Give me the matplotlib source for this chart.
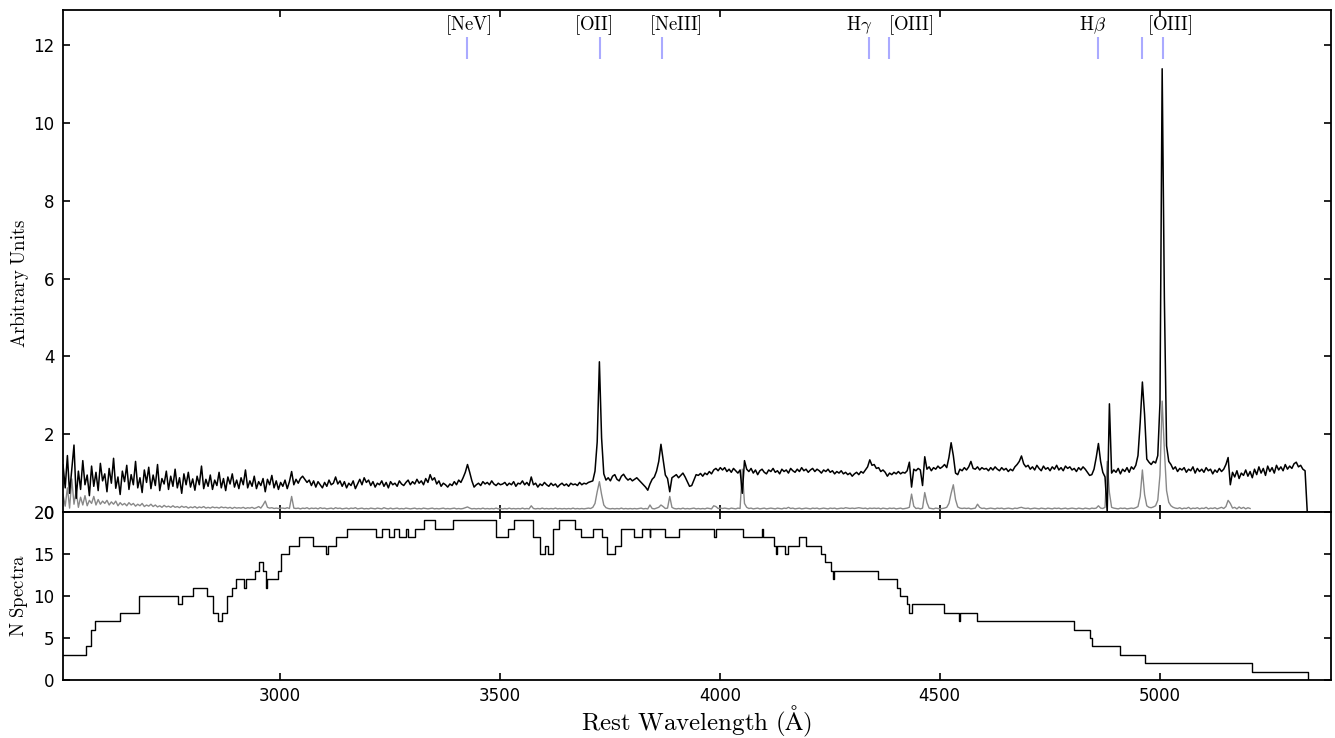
import numpy as np
import matplotlib
matplotlib.use('Agg')
import matplotlib.pyplot as plt

plt.rcParams['mathtext.fontset'] = 'cm'
plt.rcParams['font.family'] = ['DejaVu Sans']

# ---------------- data ----------------
wave_start = 2506.0
wave_step = 5.0

# composite spectrum (black), 5 A bins
flux_2500 = [1.21, 0.62, 1.45, 0.48, 1.10, 1.72, 0.35, 1.05, 0.58, 1.32,
             0.70, 0.95, 0.42, 1.18, 0.66, 1.02, 0.55, 1.25, 0.80, 0.98,
             0.52, 1.12, 0.74, 1.38, 0.61, 0.90, 0.45, 1.05, 0.78, 1.20,
             0.58, 0.96, 0.70, 1.30, 0.62, 0.88, 0.50, 1.08, 0.76, 1.15,
             0.60, 0.95, 0.68, 1.22, 0.55, 0.86, 0.72, 1.05, 0.58, 0.92,
             0.66, 1.10, 0.62, 0.88, 0.48, 0.98, 0.70, 1.02, 0.64, 0.85,
             0.56, 0.92, 0.70, 1.18, 0.60, 0.84, 0.66, 0.95, 0.58, 0.82,
             0.68, 1.02, 0.62, 0.86, 0.55, 0.90, 0.72, 0.98, 0.64, 0.82,
             0.60, 0.88, 0.70, 1.08, 0.62, 0.80, 0.66, 0.92, 0.60, 0.78,
             0.68, 0.86, 0.52, 0.84, 0.70, 0.94, 0.62, 0.80, 0.58, 0.76]
flux_3000 = [0.66, 0.82, 0.60, 0.78, 1.04, 0.70, 0.84, 0.74, 0.86, 0.92,
             0.84, 0.76, 0.82, 0.68, 0.80, 0.64, 0.78, 0.70, 0.62, 0.76,
             0.66, 0.82, 0.70, 0.74, 0.90, 0.72, 0.80, 0.66, 0.78, 0.62,
             0.74, 0.68, 0.80, 0.60, 0.72, 0.84, 0.70, 0.88, 0.76, 0.82,
             0.68, 0.78, 0.64, 0.74, 0.70, 0.80, 0.66, 0.76, 0.62, 0.78,
             0.70, 0.74, 0.66, 0.80, 0.72, 0.68, 0.76, 0.82, 0.70, 0.78,
             0.72, 0.84, 0.74, 0.80, 0.70, 0.86, 0.76, 0.96, 0.82, 0.88,
             0.72, 0.80, 0.66, 0.74, 0.70, 0.64, 0.72, 0.68, 0.78, 0.70,
             0.82, 0.76, 0.88, 1.02, 1.22, 1.02, 0.80, 0.64, 0.70, 0.74,
             0.68, 0.78, 0.72, 0.76, 0.70, 0.80, 0.72, 0.68, 0.74, 0.70]
flux_3500 = [0.72, 0.76, 0.68, 0.74, 0.70, 0.78, 0.66, 0.74, 0.72, 0.80,
             0.70, 0.76, 0.68, 0.90, 0.70, 0.74, 0.64, 0.72, 0.68, 0.76,
             0.70, 0.66, 0.74, 0.68, 0.72, 0.64, 0.70, 0.74, 0.68, 0.72,
             0.66, 0.74, 0.70, 0.72, 0.68, 0.76, 0.70, 0.74, 0.72, 0.76,
             0.78, 0.80, 1.05, 1.80, 3.86, 1.90, 0.98, 0.82,
             0.88, 0.80, 0.92, 0.96, 0.84, 0.80, 0.92, 0.97, 0.88, 0.82,
             0.86, 0.80, 0.84, 0.88, 0.82, 0.76, 0.70, 0.64, 0.56, 0.72,
             0.84, 0.90, 1.05, 1.30, 1.74, 1.35, 0.95, 0.86, 0.52, 0.88,
             0.92, 0.96, 0.88, 0.94, 1.00, 0.90, 0.78, 0.66, 0.68, 0.82,
             0.96, 0.94, 0.99, 0.92, 1.00, 0.96, 1.04, 0.98, 1.08, 1.12,
             1.06, 1.14]
flux_4000 = [1.08, 1.14, 1.04, 1.10, 1.02, 1.12, 1.06, 1.00, 1.08, 0.48,
             1.32, 1.10, 1.04, 1.12, 1.00, 1.08, 0.96, 1.06, 1.10, 1.02,
             0.98, 1.08, 1.04, 1.12, 1.02, 1.06, 0.98, 1.10, 1.04, 1.08,
             1.00, 1.12, 1.06, 1.02, 1.10, 1.04, 1.14, 1.06, 1.10, 1.02,
             1.08, 1.12, 1.04, 1.10, 1.06, 1.00, 1.08, 1.04, 1.10, 1.02,
             1.06, 0.98, 1.04, 1.00, 1.06, 0.98, 1.02, 0.96, 1.00, 0.92,
             0.98, 1.02, 0.96, 1.04, 1.00, 1.08, 1.16, 1.34, 1.20, 1.22,
             1.12, 1.14, 1.04, 1.08, 1.02, 0.92, 1.00, 0.96, 1.02, 0.98,
             1.04, 0.98, 1.02, 1.00, 1.06, 1.28, 0.64, 1.10, 1.06, 1.12,
             1.08, 0.68, 1.42, 1.10, 1.16, 1.06, 1.14, 1.10, 1.18, 1.12]
flux_4500 = [1.16, 1.22, 1.14, 1.40, 1.78, 1.45, 1.00, 0.96, 1.10, 1.06,
             1.14, 1.08, 1.16, 1.30, 1.12, 1.10, 1.16, 1.08, 1.14, 1.10,
             1.12, 1.06, 1.14, 1.08, 1.16, 1.10, 1.06, 1.14, 1.08, 1.12,
             1.04, 1.10, 1.06, 1.16, 1.22, 1.30, 1.44, 1.24, 1.16, 1.20,
             1.10, 1.16, 1.08, 1.20, 1.12, 1.06, 1.18, 1.10, 1.14, 1.06,
             1.16, 1.10, 1.20, 1.08, 1.14, 1.06, 1.18, 1.12, 1.16, 1.08,
             1.12, 1.04, 1.14, 1.08, 1.16, 1.10, 1.02, 0.94, 0.96, 1.10,
             1.40, 1.76, 1.30, 1.02, 0.90, 0.00, 2.78, 1.00, 1.08, 1.02,
             1.12, 0.98, 1.10, 1.04, 1.14, 1.02, 1.16, 1.10, 1.20, 1.45,
             2.30, 3.34, 2.50, 1.36, 1.28, 1.22, 1.30, 1.26, 1.45, 2.80]
flux_5000 = [11.39, 5.50, 1.70, 1.30, 1.22, 1.10, 1.16, 1.04, 1.12, 1.08,
             1.14, 1.02, 1.10, 1.06, 1.16, 1.00, 1.12, 1.04, 1.10, 1.02,
             1.14, 1.06, 1.10, 0.98, 1.08, 1.02, 1.12, 1.04, 1.10, 1.22,
             1.40, 0.70, 1.02, 0.90, 1.06, 0.86, 1.00, 0.94, 1.08, 0.92,
             1.04, 0.88, 1.10, 0.96, 1.16, 1.00, 1.12, 0.94, 1.18, 1.04,
             1.14, 1.00, 1.20, 1.08, 1.16, 1.06, 1.22, 1.10, 1.18, 1.12,
             1.24, 1.28, 1.16, 1.20, 1.10, 1.06, 0.00]

# noise / dispersion spectrum (grey), same 5 A bins, ends near 5206 A
noise_2500 = [0.45, 0.15, 0.62, 0.10, 0.85, 0.20, 0.55, 0.12, 0.38, 0.18,
              0.42, 0.16, 0.30, 0.22, 0.40, 0.18, 0.32, 0.20, 0.28, 0.22,
              0.30, 0.18, 0.26, 0.20, 0.28, 0.16, 0.24, 0.18, 0.22, 0.16,
              0.24, 0.18, 0.22, 0.15, 0.20, 0.16, 0.22, 0.14, 0.18, 0.15,
              0.20, 0.14, 0.18, 0.13, 0.16, 0.12, 0.17, 0.13, 0.15, 0.12,
              0.16, 0.12, 0.14, 0.11, 0.15, 0.12, 0.14, 0.10, 0.13, 0.11,
              0.14, 0.10, 0.13, 0.11, 0.14, 0.10, 0.12, 0.10, 0.13, 0.11,
              0.12, 0.10, 0.13, 0.11, 0.12, 0.10, 0.12, 0.09, 0.12, 0.10,
              0.11, 0.10, 0.12, 0.09, 0.11, 0.10, 0.12, 0.09, 0.11, 0.14,
              0.10, 0.18, 0.28, 0.12, 0.10, 0.11, 0.09, 0.10, 0.09, 0.10]
noise_3000 = [0.10, 0.09, 0.11, 0.09, 0.40, 0.10, 0.09, 0.10, 0.08, 0.10,
              0.09, 0.11, 0.08, 0.10, 0.09, 0.10, 0.08, 0.11, 0.09, 0.10,
              0.08, 0.09, 0.10, 0.08, 0.11, 0.09, 0.10, 0.08, 0.09, 0.10,
              0.08, 0.10, 0.09, 0.11, 0.08, 0.09, 0.10, 0.08, 0.09, 0.08,
              0.10, 0.09, 0.08, 0.10, 0.09, 0.08, 0.11, 0.09, 0.08, 0.10,
              0.08, 0.09, 0.10, 0.08, 0.09, 0.08, 0.10, 0.09, 0.08, 0.09,
              0.10, 0.08, 0.09, 0.08, 0.10, 0.09, 0.08, 0.09, 0.10, 0.08,
              0.09, 0.08, 0.09, 0.10, 0.08, 0.09, 0.08, 0.09, 0.10, 0.08,
              0.09, 0.08, 0.09, 0.11, 0.13, 0.10, 0.08, 0.09, 0.08, 0.09,
              0.08, 0.10, 0.08, 0.09, 0.08, 0.09, 0.08, 0.10, 0.08, 0.09]
noise_3500 = [0.08, 0.09, 0.08, 0.10, 0.08, 0.09, 0.08, 0.09, 0.08, 0.10,
              0.08, 0.09, 0.08, 0.16, 0.09, 0.08, 0.09, 0.08, 0.10, 0.08,
              0.09, 0.08, 0.09, 0.08, 0.10, 0.08, 0.09, 0.08, 0.09, 0.08,
              0.09, 0.08, 0.10, 0.08, 0.09, 0.08, 0.09, 0.08, 0.09, 0.10,
              0.09, 0.12, 0.22, 0.52, 0.78, 0.45, 0.18, 0.11, 0.09, 0.08,
              0.09, 0.08, 0.09, 0.08, 0.10, 0.08, 0.09, 0.08, 0.09, 0.08,
              0.09, 0.08, 0.09, 0.10, 0.08, 0.09, 0.08, 0.18, 0.09, 0.08,
              0.10, 0.12, 0.18, 0.14, 0.09, 0.10, 0.40, 0.12, 0.09, 0.08,
              0.09, 0.08, 0.10, 0.08, 0.09, 0.08, 0.09, 0.10, 0.08, 0.09,
              0.08, 0.09, 0.08, 0.10, 0.09, 0.08, 0.16, 0.14, 0.09, 0.10]
noise_4000 = [0.09, 0.10, 0.09, 0.08, 0.10, 0.09, 0.08, 0.10, 0.09, 1.10,
              0.22, 0.12, 0.09, 0.10, 0.08, 0.09, 0.10, 0.08, 0.09, 0.10,
              0.08, 0.09, 0.10, 0.09, 0.08, 0.10, 0.09, 0.08, 0.10, 0.09,
              0.12, 0.09, 0.10, 0.08, 0.09, 0.10, 0.08, 0.09, 0.10, 0.09,
              0.08, 0.10, 0.09, 0.10, 0.08, 0.09, 0.10, 0.09, 0.08, 0.10,
              0.09, 0.10, 0.08, 0.09, 0.10, 0.09, 0.11, 0.10, 0.09, 0.10,
              0.09, 0.10, 0.11, 0.10, 0.09, 0.10, 0.08, 0.10, 0.09, 0.10,
              0.09, 0.10, 0.08, 0.10, 0.09, 0.08, 0.10, 0.09, 0.10, 0.08,
              0.09, 0.10, 0.08, 0.09, 0.10, 0.12, 0.46, 0.15, 0.09, 0.10,
              0.08, 0.10, 0.50, 0.24, 0.10, 0.09, 0.08, 0.10, 0.09, 0.08]
noise_4500 = [0.09, 0.10, 0.12, 0.22, 0.48, 0.70, 0.32, 0.13, 0.10, 0.09,
              0.10, 0.09, 0.10, 0.08, 0.09, 0.10, 0.20, 0.12, 0.09, 0.10,
              0.08, 0.09, 0.10, 0.09, 0.08, 0.10, 0.09, 0.10, 0.08, 0.09,
              0.10, 0.09, 0.08, 0.10, 0.09, 0.11, 0.12, 0.10, 0.09, 0.10,
              0.08, 0.09, 0.10, 0.09, 0.08, 0.10, 0.09, 0.08, 0.10, 0.09,
              0.08, 0.10, 0.09, 0.10, 0.08, 0.09, 0.10, 0.08, 0.09, 0.10,
              0.09, 0.08, 0.10, 0.09, 0.08, 0.10, 0.09, 0.08, 0.10, 0.09,
              0.10, 0.16, 0.10, 0.09, 0.12, 1.30, 0.50, 0.12, 0.10, 0.09,
              0.08, 0.10, 0.09, 0.10, 0.08, 0.09, 0.10, 0.09, 0.11, 0.14,
              0.40, 1.08, 0.45, 0.16, 0.12, 0.11, 0.13, 0.16, 0.30, 0.95]
noise_5000 = [2.85, 1.60, 0.55, 0.25, 0.16, 0.12, 0.10, 0.09, 0.11, 0.08,
              0.10, 0.09, 0.12, 0.08, 0.10, 0.09, 0.11, 0.08, 0.10, 0.09,
              0.12, 0.08, 0.10, 0.09, 0.11, 0.08, 0.10, 0.12, 0.09, 0.14,
              0.30, 0.22, 0.10, 0.12, 0.08, 0.13, 0.09, 0.12, 0.08, 0.11,
              0.09]

# number of stacked spectra per wavelength (step function)
nspec_edges = [2506, 2558, 2569, 2579, 2636, 2679, 2768, 2776, 2801, 2833,
               2848, 2859, 2867, 2880, 2890, 2899, 2918, 2922, 2943, 2951,
               2961, 2967, 2971, 2996, 3002, 3021, 3042, 3074, 3104, 3108,
               3127, 3152, 3219, 3231, 3248, 3258, 3271, 3286, 3290, 3307,
               3326, 3353, 3392, 3491, 3517, 3532, 3574, 3591, 3602, 3608,
               3620, 3633, 3671, 3684, 3711, 3733, 3743, 3762, 3775, 3804,
               3823, 3840, 3842, 3875, 3906, 3986, 3991, 4052, 4095, 4097,
               4122, 4128, 4130, 4149, 4156, 4179, 4195, 4230, 4239, 4253,
               4257, 4259, 4359, 4402, 4410, 4425, 4430, 4437, 4509, 4543,
               4546, 4585, 4805, 4841, 4847, 4911, 4966, 5210, 5337, 5340]
nspec_counts = [3, 4, 6, 7, 8, 10, 9, 10, 11, 10,
                8, 7, 8, 10, 11, 12, 11, 12, 13, 14,
                13, 11, 12, 13, 15, 16, 17, 16, 15, 16,
                17, 18, 17, 18, 17, 18, 17, 18, 17, 18,
                19, 18, 19, 17, 18, 19, 17, 15, 16, 15,
                18, 19, 18, 17, 18, 17, 15, 16, 18, 17,
                18, 17, 18, 17, 18, 17, 18, 17, 18, 17,
                16, 15, 16, 15, 16, 17, 16, 15, 14, 13,
                12, 13, 12, 11, 10, 9, 8, 9, 8, 7,
                8, 7, 6, 5, 4, 3, 2, 1, 0, 0]

# emission line markers
line_waves = [3426, 3727, 3869, 4340, 4385, 4861, 4959, 5007]
label_texts = [r'$\mathrm{[NeV]}$', r'$\mathrm{[OII]}$', r'$\mathrm{[NeIII]}$',
               r'$\mathrm{H}\gamma$', r'$\mathrm{[OIII]}$', r'$\mathrm{H}\beta$',
               r'$\mathrm{[OIII]}$']
label_waves = [3428, 3712, 3899, 4317, 4433, 4848, 5023]

# ---------------- build ----------------
flux = np.array(flux_2500 + flux_3000 + flux_3500 + flux_4000 + flux_4500 + flux_5000)
wave = wave_start + wave_step * np.arange(len(flux))
noise = np.array(noise_2500 + noise_3000 + noise_3500 + noise_4000 + noise_4500 + noise_5000)
wave_noise = wave_start + wave_step * np.arange(len(noise))

W, H = 1335, 738
fig = plt.figure(figsize=(W / 100, H / 100), dpi=100)
left = 63 / W
width = (1331 - 63) / W
ax1 = fig.add_axes([left, 1 - 512 / H, width, (512 - 10) / H])
ax2 = fig.add_axes([left, 1 - 680 / H, width, (680 - 512) / H], sharex=ax1)

ax1.plot(wave_noise, noise, color='#888888', lw=1.0)
ax1.plot(wave, flux, color='black', lw=1.1)
ax1.vlines(line_waves, 11.65, 12.2, colors='#aaaaff', lw=1.5)
for t, x in zip(label_texts, label_waves):
    ax1.text(x, 12.5, t, ha='center', va='center', fontsize=13.5)

ax2.step(nspec_edges, nspec_counts, where='post', color='black', lw=1.0)

ax1.set_xlim(2506, 5390)
ax1.set_ylim(0, 12.9)
ax2.set_ylim(0, 20)
ax1.set_yticks([0, 2, 4, 6, 8, 10, 12])
ax2.set_yticks([0, 5, 10, 15, 20])
ax2.set_xticks([3000, 3500, 4000, 4500, 5000])

for ax in (ax1, ax2):
    ax.tick_params(direction='in', top=True, right=True, length=5, width=1.2,
                   labelsize=12, pad=6)
    for s in ax.spines.values():
        s.set_linewidth(1.3)
ax1.tick_params(labelbottom=False)
ax2.tick_params(axis='x', pad=5)

ax1.set_ylabel(r'$\mathrm{Arbitrary\ Units}$', fontsize=13.5)
ax2.set_ylabel(r'$\mathrm{N\ Spectra}$', fontsize=13.5)
ax2.set_xlabel(r'$\mathrm{Rest\ Wavelength\ (\AA)}$', fontsize=18)
ax1.yaxis.set_label_coords(-0.025, 0.455)
ax2.yaxis.set_label_coords(-0.026, 0.5)
ax2.xaxis.set_label_coords(0.5, -0.140)

fig.savefig('out.png', dpi=100)
